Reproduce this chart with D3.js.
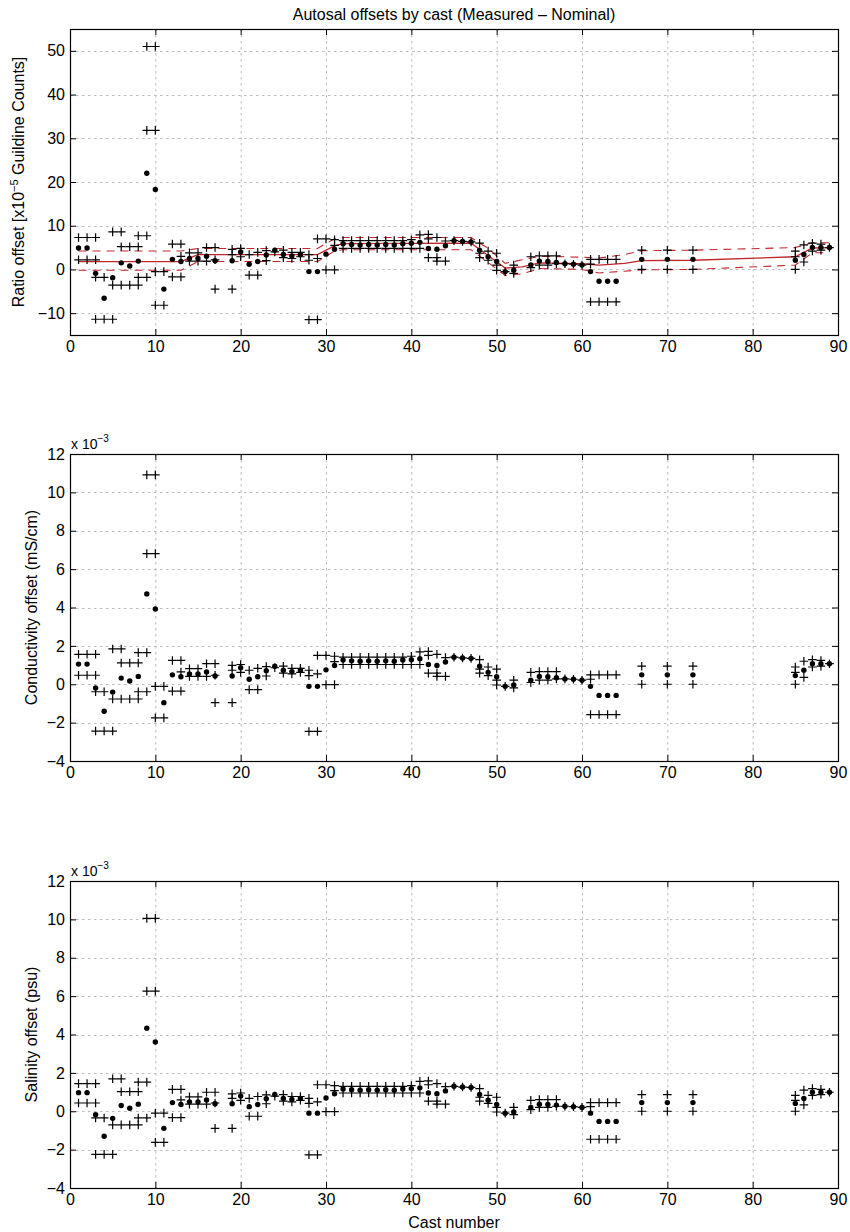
<!DOCTYPE html>
<html>
<head>
<meta charset="utf-8">
<script src="https://cdn.jsdelivr.net/npm/d3@7"></script>
<style>
  body { margin: 0; background: #fff; }
  text { font-family: "Liberation Sans", Arial, Helvetica, sans-serif; fill: #000; }
</style>
</head>
<body>
<svg id="fig" width="850" height="1232"></svg>
<script>
// ---- cast means (one filled dot per cast) ----
const castNo = [1,2,3,4,5,6,7,8,9,10,11,12,13,14,15,16,17,
  19,20,21,22,23,24,25,26,27,28,29,30,31,
  32,33,34,35,36,37,38,39,40,
  41,42,43,44,45,46,47,48,49,50,51,52,
  54,55,56,57,58,59,60,61,62,63,64,
  67,70,73, 85,86,87,88,89];

const ratioMean = [4.9,4.9,-0.9,-6.6,-1.9,1.5,0.8,1.9,22.0,18.3,-4.5,2.3,1.8,2.5,2.5,3.0,2.0,
  2.0,4.0,1.2,1.8,3.3,4.4,3.4,3.1,3.4,-0.5,-0.5,3.5,4.6,
  5.9,5.7,5.6,5.7,5.6,5.7,5.6,5.9,6.0,
  6.2,4.8,4.6,5.4,6.6,6.4,6.3,4.4,2.9,1.8,-0.5,-0.2,
  1.0,1.9,1.8,1.6,1.3,1.2,1.0,-0.5,-2.7,-2.7,-2.7,
  2.3,2.3,2.3, 2.1,3.4,5.0,5.0,5.0];

const condMean = [1.05,1.05,-0.19,-1.41,-0.41,0.32,0.17,0.41,4.71,3.92,-0.96,0.49,0.39,0.54,0.54,0.64,0.43,
  0.43,0.86,0.26,0.39,0.71,0.94,0.73,0.66,0.73,-0.11,-0.11,0.75,0.98,
  1.26,1.22,1.20,1.22,1.20,1.22,1.20,1.26,1.28,
  1.33,1.03,0.98,1.16,1.41,1.37,1.35,0.94,0.62,0.39,-0.11,-0.04,
  0.21,0.41,0.39,0.34,0.28,0.26,0.21,-0.11,-0.58,-0.58,-0.58,
  0.49,0.49,0.49, 0.45,0.73,1.07,1.07,1.07];

const salMean = [0.97,0.97,-0.18,-1.30,-0.37,0.30,0.16,0.37,4.33,3.61,-0.89,0.45,0.35,0.49,0.49,0.59,0.39,
  0.39,0.79,0.24,0.35,0.65,0.87,0.67,0.61,0.67,-0.10,-0.10,0.69,0.91,
  1.16,1.12,1.10,1.12,1.10,1.12,1.10,1.16,1.18,
  1.22,0.95,0.91,1.06,1.30,1.26,1.24,0.87,0.57,0.35,-0.10,-0.04,
  0.20,0.37,0.35,0.32,0.26,0.24,0.20,-0.10,-0.53,-0.53,-0.53,
  0.45,0.45,0.45, 0.41,0.67,0.99,0.99,0.99];

// ---- individual readings (plus markers) ----
const plusCast = [
  1,1, 2,2, 3,3,3,3, 4,4, 5,5,5, 6,6,6, 7,7, 8,8,8,8, 9,9,9,9, 10,10,10,10, 11,11,
  12,12, 13,13,13, 14,14, 15,15, 16,16, 17,17,17,
  19,19,19, 20,20, 21,21, 22,22, 23,23, 24, 25,25, 26,26, 27,27, 28,28,28, 29,29,29, 30,30, 31,31,31,
  32,32, 33,33, 34,34, 35,35, 36,36, 37,37, 38,38, 39,39, 40,40,
  41,41, 42,42,42, 43,43,43, 44,44, 45, 46, 47, 48,48,48, 49,49, 50,50,50, 51, 52,52,
  54,54, 55,55, 56,56, 57,57, 58, 59, 60, 61,61,61, 62,62, 63,63, 64,64,
  67,67, 70,70, 73,73, 85,85,85, 86,86, 87,87, 88,88, 89];

const ratioPlus = [
  7.3,2.2, 7.3,2.2, 7.3,2.2,-1.8,-11.4, -1.8,-11.4, 8.6,-3.6,-11.4, 8.6,5.2,-3.6, 5.2,-3.6, 7.7,5.2,-1.8,-3.6,
  51.0,31.8,7.7,-1.8, 51.0,31.8,-0.5,-8.2, -0.5,-8.2,
  5.8,-1.7, 5.8,-1.7,3.0, 3.8,1.9, 3.8,1.9, 5.0,1.9, 5.0,2.2,-4.5,
  4.6,3.4,-4.5, 4.8,2.9, 3.4,-1.3, 3.9,-1.3, 4.3,2.0, 4.0, 4.4,2.7, 3.9,2.5, 3.9,2.9, 3.4,2.1,-11.5, 2.5,7.0,-11.5, 7.0,-0.1, 6.8,5.5,-0.1,
  6.6,4.8, 6.6,4.8, 6.6,4.8, 6.6,4.8, 6.6,4.8, 6.6,4.8, 6.6,4.8, 6.6,4.8, 6.8,4.8,
  7.9,4.8, 8.0,7.0,2.7, 7.3,2.7,1.9, 6.5,1.9, 6.6, 6.4, 6.3, 6.0,3.7,2.7, 4.2,2.1, 3.7,1.0,-0.2, -0.5, 1.0,-0.9,
  2.9,0.4, 3.1,1.0, 3.1,1.0, 3.1,1.3, 1.3, 1.2, 1.0, 2.3,1.2,-7.4, 2.3,-7.4, 2.3,-7.4, 2.3,-7.4,
  4.4,0.0, 4.4,0.0, 4.4,0.0, 4.2,2.9,0.0, 5.6,1.7, 6.0,4.2, 5.8,4.4, 5.0];

const condPlus = [
  1.56,0.47, 1.56,0.47, 1.56,0.47,-0.39,-2.44, -0.39,-2.44, 1.84,-0.77,-2.44, 1.84,1.11,-0.77, 1.11,-0.77, 1.65,1.11,-0.39,-0.77,
  10.91,6.81,1.65,-0.39, 10.91,6.81,-0.11,-1.75, -0.11,-1.75,
  1.24,-0.36, 1.24,-0.36,0.64, 0.81,0.41, 0.81,0.41, 1.07,0.41, 1.07,0.47,-0.96,
  0.98,0.73,-0.96, 1.03,0.62, 0.73,-0.28, 0.83,-0.28, 0.92,0.43, 0.86, 0.94,0.58, 0.83,0.54, 0.83,0.62, 0.73,0.45,-2.46, 0.54,1.50,-2.46, 1.50,-0.02, 1.46,1.18,-0.02,
  1.41,1.03, 1.41,1.03, 1.41,1.03, 1.41,1.03, 1.41,1.03, 1.41,1.03, 1.41,1.03, 1.41,1.03, 1.46,1.03,
  1.69,1.03, 1.71,1.50,0.58, 1.56,0.58,0.41, 1.39,0.41, 1.41, 1.37, 1.35, 1.28,0.79,0.58, 0.90,0.45, 0.79,0.21,-0.04, -0.11, 0.21,-0.19,
  0.62,0.09, 0.66,0.21, 0.66,0.21, 0.66,0.28, 0.28, 0.26, 0.21, 0.49,0.26,-1.58, 0.49,-1.58, 0.49,-1.58, 0.49,-1.58,
  0.94,0.00, 0.94,0.00, 0.94,0.00, 0.90,0.62,0.00, 1.20,0.36, 1.28,0.90, 1.24,0.94, 1.07];

const salPlus = [
  1.44,0.43, 1.44,0.43, 1.44,0.43,-0.35,-2.25, -0.35,-2.25, 1.69,-0.71,-2.25, 1.69,1.02,-0.71, 1.02,-0.71, 1.52,1.02,-0.35,-0.71,
  10.05,6.26,1.52,-0.35, 10.05,6.26,-0.10,-1.62, -0.10,-1.62,
  1.14,-0.33, 1.14,-0.33,0.59, 0.75,0.37, 0.75,0.37, 0.99,0.37, 0.99,0.43,-0.89,
  0.91,0.67,-0.89, 0.95,0.57, 0.67,-0.26, 0.77,-0.26, 0.85,0.39, 0.79, 0.87,0.53, 0.77,0.49, 0.77,0.57, 0.67,0.41,-2.27, 0.49,1.38,-2.27, 1.38,-0.02, 1.34,1.08,-0.02,
  1.30,0.95, 1.30,0.95, 1.30,0.95, 1.30,0.95, 1.30,0.95, 1.30,0.95, 1.30,0.95, 1.30,0.95, 1.34,0.95,
  1.56,0.95, 1.58,1.38,0.53, 1.44,0.53,0.37, 1.28,0.37, 1.30, 1.26, 1.24, 1.18,0.73,0.53, 0.83,0.41, 0.73,0.20,-0.04, -0.10, 0.20,-0.18,
  0.57,0.08, 0.61,0.20, 0.61,0.20, 0.61,0.26, 0.26, 0.24, 0.20, 0.45,0.24,-1.46, 0.45,-1.46, 0.45,-1.46, 0.45,-1.46,
  0.87,0.00, 0.87,0.00, 0.87,0.00, 0.83,0.57,0.00, 1.10,0.33, 1.18,0.83, 1.14,0.87, 0.99];

// ---- smoothed ratio offset and its envelope (red lines) ----
const fitCast  = [1, 13, 15, 29, 31, 32, 47, 49, 51, 53, 55, 60, 62, 65, 67, 73, 85, 87, 89];
const fitMean  = [1.8, 1.8, 3.4, 3.4, 5.4, 5.9, 6.0, 3.2, 0.3, 0.6, 1.5, 1.3, 1.0, 1.4, 2.0, 2.1, 2.9, 4.9, 5.0];
const fitUpper = [4.2, 4.2, 4.8, 4.8, 7.0, 7.3, 7.3, 4.8, 1.4, 2.2, 3.0, 2.8, 2.6, 3.4, 4.3, 4.4, 5.0, 6.1, 6.1];
const fitLower = [-0.2, -0.2, 1.8, 1.8, 4.2, 4.5, 4.5, 1.6, -1.4, -1.0, 0.2, 0.0, -0.8, -0.4, -0.1, 0.0, 1.0, 3.8, 3.8];

// ---- tick values ----
const xTicks = [0, 10, 20, 30, 40, 50, 60, 70, 80, 90];
const ratioTicks = [-10, 0, 10, 20, 30, 40, 50];
const smallTicks = [-4, -2, 0, 2, 4, 6, 8, 10, 12];

const svg = d3.select("#fig");
const L = 70, R = 838;
const FONT = 16;
const x = d3.scaleLinear().domain([0, 90]).range([L, R]);

const panels = [
  { top: 29,  bottom: 335,  domain: [-15, 55], ticks: ratioTicks, mean: ratioMean, plus: ratioPlus,
    label: ["Ratio offset [x10", "\u22125", " Guildine Counts]"], labelX: 24, fit: true },
  { top: 454, bottom: 761,  domain: [-4, 12],  ticks: smallTicks, mean: condMean,  plus: condPlus,
    label: ["Conductivity offset (mS/cm)"], labelX: 37, exponent: true },
  { top: 881, bottom: 1188, domain: [-4, 12],  ticks: smallTicks, mean: salMean,   plus: salPlus,
    label: ["Salinity offset (psu)"], labelX: 37, exponent: true }
];

panels.forEach(p => {
  const y = d3.scaleLinear().domain(p.domain).range([p.bottom, p.top]);
  const g = svg.append("g");

  // dotted grid
  const grid = g.append("g").attr("stroke", "#b4b4b4").attr("stroke-width", 0.9)
    .attr("stroke-dasharray", "2.5,3.5");
  grid.selectAll("line.v").data(xTicks).join("line")
    .attr("x1", d => x(d) + 0.5).attr("x2", d => x(d) + 0.5)
    .attr("y1", p.top).attr("y2", p.bottom);
  grid.selectAll("line.h").data(p.ticks).join("line")
    .attr("x1", L).attr("x2", R)
    .attr("y1", d => Math.round(y(d)) + 0.5).attr("y2", d => Math.round(y(d)) + 0.5);

  // envelope and running value on the ratio panel
  if (p.fit) {
    const fitPts = (vals) => fitCast.map((c, i) => [c, vals[i]]);
    const line = d3.line().x(d => x(d[0])).y(d => y(d[1]));
    const red = g.append("g").attr("fill", "none").attr("stroke", "#c0262c");
    red.append("path").attr("d", line(fitPts(fitUpper))).attr("stroke-width", 1.1).attr("stroke-dasharray", "8,6");
    red.append("path").attr("d", line(fitPts(fitLower))).attr("stroke-width", 1.1).attr("stroke-dasharray", "8,6");
    red.append("path").attr("d", line(fitPts(fitMean))).attr("stroke-width", 1.3);
  }

  // plus markers
  g.append("g").attr("stroke", "#000").attr("stroke-width", 1.2).attr("fill", "none")
    .selectAll("path").data(plusCast.map((c, i) => [c, p.plus[i]])).join("path")
    .attr("d", d => {
      const cx = x(d[0]), cy = y(d[1]);
      return `M${cx - 4.3},${cy}H${cx + 4.3}M${cx},${cy - 4.3}V${cy + 4.3}`;
    });

  // mean dots
  g.append("g").attr("fill", "#000")
    .selectAll("circle").data(castNo.map((c, i) => [c, p.mean[i]])).join("circle")
    .attr("cx", d => x(d[0])).attr("cy", d => y(d[1])).attr("r", 2.7);

  // axes with inward ticks on all four sides
  const axB = g.append("g").attr("transform", `translate(0,${p.bottom})`)
    .call(d3.axisBottom(x).tickValues(xTicks).tickSize(-6).tickPadding(6).tickFormat(d3.format("d")));
  const axT = g.append("g").attr("transform", `translate(0,${p.top})`)
    .call(d3.axisTop(x).tickValues(xTicks).tickSize(-6).tickFormat(""));
  const axL = g.append("g").attr("transform", `translate(${L},0)`)
    .call(d3.axisLeft(y).tickValues(p.ticks).tickSize(-6).tickPadding(5).tickFormat(d3.format("d")));
  const axR = g.append("g").attr("transform", `translate(${R},0)`)
    .call(d3.axisRight(y).tickValues(p.ticks).tickSize(-6).tickFormat(""));
  [axB, axT, axL, axR].forEach(a => {
    a.select(".domain").remove();
    a.selectAll("line").attr("stroke", "#000").attr("stroke-width", 1);
    a.selectAll("text").attr("font-size", FONT).attr("font-family", "Liberation Sans, Arial, sans-serif").attr("fill", "#000");
  });

  // frame
  g.append("rect").attr("x", L + 0.5).attr("y", p.top + 0.5)
    .attr("width", R - L).attr("height", p.bottom - p.top)
    .attr("fill", "none").attr("stroke", "#000").attr("stroke-width", 1.2);

  // y label
  const yl = g.append("text").attr("font-size", FONT).attr("text-anchor", "middle")
    .attr("transform", `translate(${p.labelX},${(p.top + p.bottom) / 2}) rotate(-90)`);
  yl.append("tspan").text(p.label[0]);
  if (p.label.length > 1) {
    yl.append("tspan").attr("font-size", 11).attr("dy", -6).text(p.label[1]);
    yl.append("tspan").attr("dy", 6).text(p.label[2]);
  }

  // axis multiplier
  if (p.exponent) {
    const ex = g.append("text").attr("x", L + 1).attr("y", p.top - 5).attr("font-size", 14);
    ex.append("tspan").text("x 10");
    ex.append("tspan").attr("font-size", 10).attr("dy", -7).text("\u22123");
  }
});

// title and x label
svg.append("text").attr("x", (L + R) / 2).attr("y", 20).attr("text-anchor", "middle")
  .attr("font-size", FONT).text("Autosal offsets by cast (Measured \u2013 Nominal)");
svg.append("text").attr("x", (L + R) / 2).attr("y", 1228).attr("text-anchor", "middle")
  .attr("font-size", FONT).text("Cast number");
</script>
</body>
</html>
